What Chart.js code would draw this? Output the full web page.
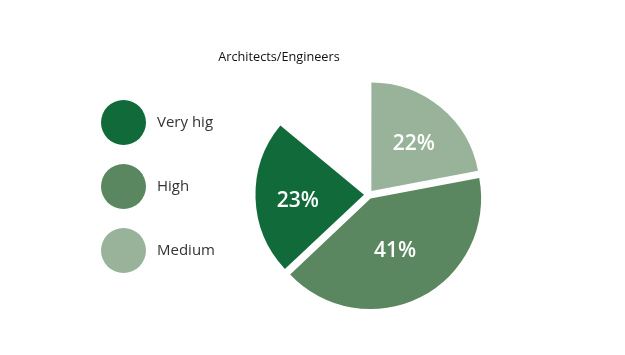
<!DOCTYPE html>
<html>
<head>
<meta charset="utf-8">
<script src="https://cdn.jsdelivr.net/npm/chart.js@4"></script>
<style>
  html, body { margin: 0; padding: 0; background: #fff; }
  #wrap { position: relative; width: 625px; height: 355px; }
  #c { position: absolute; left: 0; top: 0; }
  #title { position: absolute; left: 179px; width: 200px; top: 47px; text-align: center;
           font-family: "Open Sans", sans-serif; font-size: 12.7px; color: #111; }
  #legend { position: absolute; left: 101px; top: 100px; font-family: "Open Sans", sans-serif; }
  .item { position: absolute; left: 0; height: 44px; white-space: nowrap; }
  .dot { position: absolute; left: 0; top: 0; width: 45px; height: 45px; border-radius: 50%; }
  .lbl { position: absolute; left: 56px; top: 10px; font-size: 15px; color: #333; line-height: 22px; }
</style>
</head>
<body>
<div id="wrap">
  <canvas id="c" width="625" height="355"></canvas>
  <div id="title"></div>
  <div id="legend"></div>
</div>
<script>
const chartTitle = "Architects/Engineers";
const categories = ["Medium", "High", "Very hig"];
const values = [22, 41, 23];
const colors = ["#98B39A", "#5A875F", "#116A3A"];
const legendOrder = [2, 1, 0];

document.getElementById('title').textContent = chartTitle;
const legend = document.getElementById('legend');
legendOrder.forEach((idx, i) => {
  const it = document.createElement('div');
  it.className = 'item';
  it.style.top = (i * 64) + 'px';
  const d = document.createElement('div');
  d.className = 'dot';
  d.style.background = colors[idx];
  const l = document.createElement('div');
  l.className = 'lbl';
  l.textContent = categories[idx];
  it.appendChild(d); it.appendChild(l);
  legend.appendChild(it);
});

const total = values.reduce((a, b) => a + b, 0);
const OFFSET = 18; // Chart.js v4 draws arcs shifted by offset/4

const labelPlugin = {
  id: 'sliceLabels',
  afterDatasetsDraw(chart) {
    const ctx = chart.ctx;
    const meta = chart.getDatasetMeta(0);
    ctx.save();
    ctx.fillStyle = '#ffffff';
    ctx.font = '600 21px "Open Sans", sans-serif';
    ctx.textAlign = 'center';
    ctx.textBaseline = 'middle';
    meta.data.forEach((arc, i) => {
      const p = arc.getProps(['x', 'y', 'startAngle', 'endAngle', 'outerRadius'], true);
      const mid = (p.startAngle + p.endAngle) / 2;
      const half = (p.endAngle - p.startAngle) / 2;
      // centroid of the circular sector, plus the slice's explode offset
      const r = (2 * p.outerRadius * Math.sin(half)) / (3 * half) + OFFSET / 4;
      const x = p.x + Math.cos(mid) * r;
      const y = p.y + Math.sin(mid) * r + 4;
      ctx.fillText(values[i] + '%', x, y);
    });
    ctx.restore();
  }
};

new Chart(document.getElementById('c'), {
  type: 'pie',
  data: {
    labels: categories,
    datasets: [{
      data: values,
      backgroundColor: colors,
      borderWidth: 0,
      offset: OFFSET
    }]
  },
  options: {
    responsive: false,
    animation: false,
    rotation: 0,
    circumference: total * 3.6,
    layout: { padding: { left: 251, right: 139, top: 77, bottom: 43 } },
    plugins: {
      legend: { display: false },
      tooltip: { enabled: false },
      title: { display: false }
    }
  },
  plugins: [labelPlugin]
});
</script>
</body>
</html>
